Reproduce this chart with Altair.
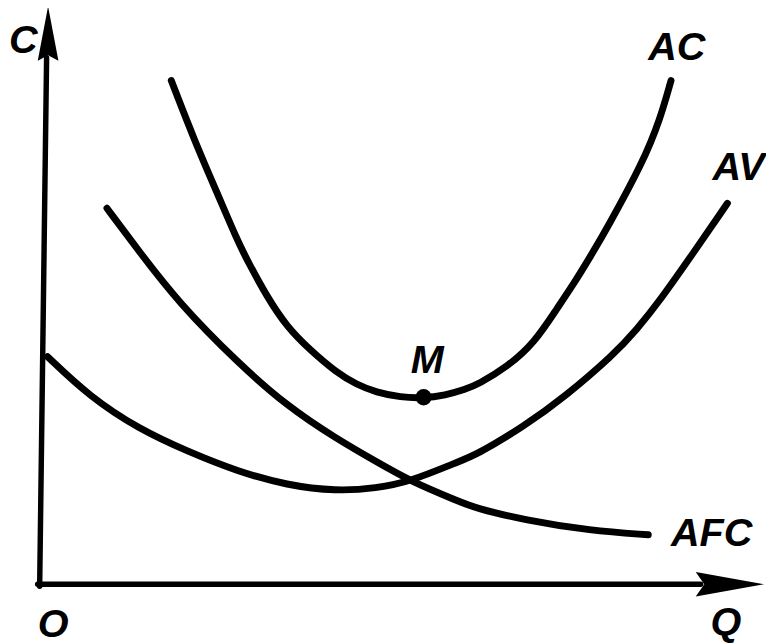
import altair as alt
import pandas as pd

# Readings from the picture: Q along the horizontal axis, C along the vertical axis
ac_q = [133, 157, 180, 200, 210, 230, 250, 273, 300, 320, 340, 365, 387, 410, 430, 443, 473, 500, 523, 540, 557, 573, 610, 627, 638]
ac_c = [509, 447, 394, 347, 327, 290, 260, 237, 214, 202, 194, 189, 188, 191, 197, 202, 220, 244, 279, 304, 332, 359, 427, 470, 509]

av_q = [8, 50, 100, 150, 200, 250, 300, 340, 375, 423, 440, 490, 530, 580, 603, 627, 660, 695]
av_c = [230, 190, 157, 134, 114, 100, 94, 97, 104, 124, 130, 160, 189, 232, 257, 287, 334, 385]

afc_q = [68, 100, 140, 200, 250, 300, 340, 375, 423, 440, 490, 557, 615]
afc_c = [380, 337, 285, 224, 180, 147, 124, 104, 84, 77, 65, 54, 50]

m_q = [388]
m_c = [189]

label_text = ["C", "AC", "AV", "AFC", "M", "O", "Q"]
label_q = [-31, 615, 680, 638, 375, -2, 678]
label_c = [537, 530, 409, 39, 214, -53, -51]

axis_name = ["x", "x", "y", "y"]
axis_q = [-2, 668, 0, 7]
axis_c = [0, 0, -2, 532]

arrow_dir = ["up", "right"]
arrow_q = [8.5, 697.5]
arrow_c = [556.5, 0]

rows = []
for name, qs, cs in [("AC", ac_q, ac_c), ("AV", av_q, av_c), ("AFC", afc_q, afc_c)]:
    for i, (q, c) in enumerate(zip(qs, cs)):
        rows.append({"curve": name, "i": i, "q": q, "c": c})
curves = pd.DataFrame(rows)

axes_df = pd.DataFrame({"axis": axis_name, "q": axis_q, "c": axis_c,
                        "i": list(range(len(axis_q)))})
labels_df = pd.DataFrame({"text": label_text, "q": label_q, "c": label_c})
m_df = pd.DataFrame({"q": m_q, "c": m_c})
arrows_df = pd.DataFrame({"dir": arrow_dir, "q": arrow_q, "c": arrow_c})

xs = alt.Scale(domain=[-32, 734], nice=False, zero=False)
ys = alt.Scale(domain=[-57, 579], nice=False, zero=False)
X = alt.X("q:Q", scale=xs, axis=None)
Y = alt.Y("c:Q", scale=ys, axis=None)

curve_layer = alt.Chart(curves).mark_line(
    interpolate="basis", color="black", strokeWidth=7, strokeCap="round", strokeJoin="round"
).encode(x=X, y=Y, detail="curve:N", order="i:Q")

axis_layer = alt.Chart(axes_df).mark_line(
    color="black", strokeWidth=5.5, strokeCap="round"
).encode(x=X, y=Y, detail="axis:N", order="i:Q")

up_arrow = alt.Chart(arrows_df).transform_filter(alt.datum.dir == "up").mark_point(
    shape="M0,-1L0.38,1L0,0.8L-0.38,1Z", size=3025, filled=True, color="black", opacity=1, strokeWidth=0
).encode(x=X, y=Y)

right_arrow = alt.Chart(arrows_df).transform_filter(alt.datum.dir == "right").mark_point(
    shape="M1,0L-1,-0.36L-0.75,0L-1,0.36Z", size=4761, filled=True, color="black", opacity=1, strokeWidth=0
).encode(x=X, y=Y)

m_layer = alt.Chart(m_df).mark_circle(size=270, color="black", opacity=1).encode(x=X, y=Y)

text_layer = alt.Chart(labels_df).mark_text(
    align="left", baseline="alphabetic", font="Liberation Sans", fontSize=40,
    fontWeight="bold", fontStyle="italic", color="black"
).encode(x=X, y=Y, text="text:N")

chart = alt.layer(
    axis_layer, up_arrow, right_arrow, curve_layer, m_layer, text_layer
).properties(
    width=766, height=636, padding=0, background="white",
    autosize=alt.AutoSizeParams(type="none")
).configure_view(stroke=None)

chart.save("out.html", embed_options={"renderer": "svg", "actions": False})
